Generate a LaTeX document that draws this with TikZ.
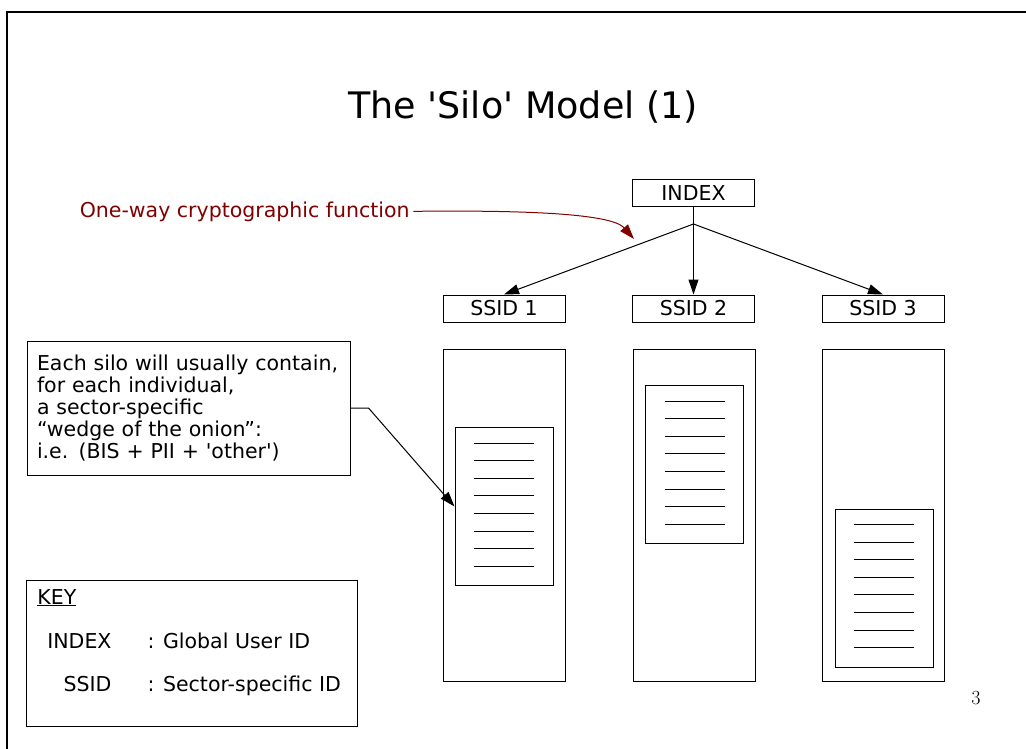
\documentclass[tikz,border=0pt]{standalone}
\usepackage{fontspec}
\setsansfont{DejaVu Sans}
\usetikzlibrary{arrows.meta,calc}
\definecolor{fnred}{RGB}{128,0,0}

\begin{document}
\begin{tikzpicture}[x=1pt, y=-1pt, line width=1pt, font=\sffamily\fontsize{20.5}{22}\selectfont,
        box/.style = {draw, minimum width=122pt, minimum height=27pt, inner sep=0pt},
        silo/.style = {draw, minimum width=122pt, minimum height=332pt},
        doc/.style = {draw, minimum width=98pt, minimum height=158pt},
        tip/.style = {-{Triangle[length=15pt, width=10pt]}}]
        \useasboundingbox (0,0) rectangle (1026,749);
        \draw[line width=2.5pt] (1026,12) -| (7,749);

        \node (title) at (523,107) {\fontsize{36.5}{40}\selectfont The \textquotesingle Silo\textquotesingle{} Model (1)};

        \node[box] (index) at (693.5,193) {INDEX};
        \node[box] (ssid1) at (504,308.5) {SSID 1};
        \node[box] (ssid2) at (693.5,308.5) {SSID 2};
        \node[box] (ssid3) at (883,308.5) {SSID 3};
        \coordinate (split) at (693.5,224);

        \draw (index) -- (split);
        \draw[tip] (split) -- (ssid1.north);
        \draw[tip] (split) -- (ssid2.north);
        \draw[tip] (split) -- (ssid3.north);

        \node[text=fnred, anchor=base west] (fn) at (76,217) {One-way cryptographic function};
        \coordinate (fnend) at (634,239);
        \draw[fnred, tip] (fn.east) .. controls (530,210) and (612,214) .. (fnend);

        \node[silo] (silo1) at (504,515) {};
        \node[silo] (silo2) at (694,515) {};
        \node[silo] (silo3) at (883,515) {};
        \node[doc] (doc1) at (504,506.5) {};
        \node[doc] (doc2) at (694.5,464.5) {};
        \node[doc] (doc3) at (884,588) {};
        \foreach \d in {doc1,doc2,doc3}
            \foreach \i in {0,...,7}
                \draw ($(\d.north)+(-30,16+17.6*\i)$) -- ++(60,0);

        \node[draw, align=left, text width=303pt, minimum height=134pt, inner xsep=10pt] (note) at (188.5,408)
            {\hyphenpenalty=10000 Each silo will usually contain,\\for each individual,\\a sector-specific\\“wedge of the onion”:\\i.e. (BIS + PII + \textquotesingle other\textquotesingle)};
        \draw[tip] (note.east) -- ++(18,0) -- (doc1.west);

        \node[draw, minimum width=331pt, minimum height=146pt] (key) at (191.5,653) {};
        \node[anchor=base west, inner sep=0pt] (keyhead) at (37,604) {\underline{KEY}};
        \node[anchor=base east, inner sep=0pt] (keyindex) at (112,648) {INDEX};
        \node[anchor=base west, inner sep=0pt] (keyindexdef) at (147,648) {: Global User ID};
        \node[anchor=base east, inner sep=0pt] (keyssid) at (112,691) {SSID};
        \node[anchor=base west, inner sep=0pt] (keyssiddef) at (147,691) {: Sector-specific ID};

        \node[font=\rmfamily\fontsize{20}{22}\selectfont] (page) at (976,698) {3};
\end{tikzpicture}
\end{document}
